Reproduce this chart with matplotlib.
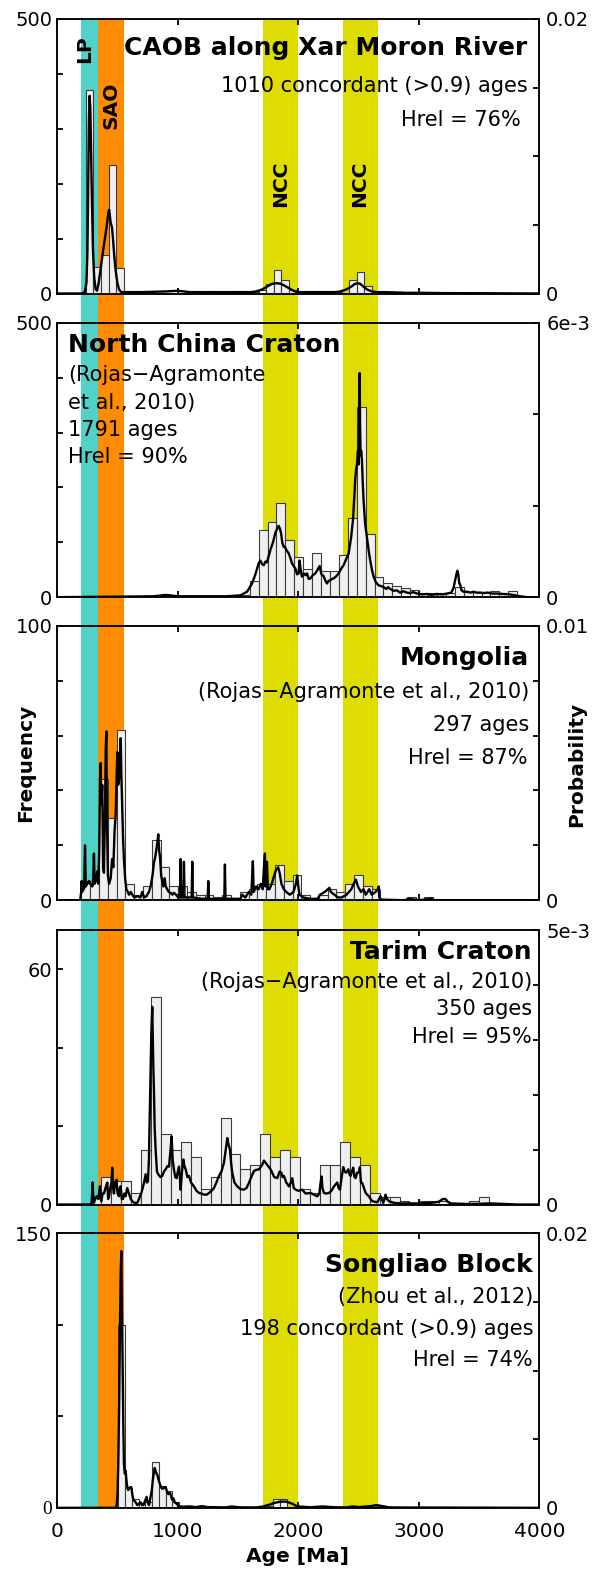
import numpy as np
import matplotlib.pyplot as plt

W, H = 594, 1570  # output size in pixels

# age windows of the source terranes [Ma]
lp_band = (200, 335)
sao_band = (335, 550)
ncc_bands = [(1705, 1995), (2370, 2660)]
age_ticks = [0, 1000, 2000, 3000, 4000]

# histograms: (first bin edge, bin width) and counts per bin
caob_bins = (238, 62.4)
caob_counts = [371, 49, 70, 234, 47,
               3, 2, 1, 2, 1, 1, 0, 1, 1, 0, 1, 0, 1, 0, 1, 1, 1,
               2, 6, 17, 42, 24, 6,
               2, 1, 1, 1, 1,
               2, 1, 24, 40, 14, 4, 2, 1, 1]

ncc_bins = (1523, 74)
ncc_counts = [4, 29, 123, 137, 171, 104, 74, 52, 81, 48, 48, 77, 145, 346, 115,
              36, 26, 20, 16, 14, 7, 8, 8, 7, 19, 10, 10, 10, 11, 7, 11]

mong_bins = (200, 73)
mong_counts = [7, 7, 44, 30, 62, 6, 2, 5, 22, 12, 5, 5, 3, 2, 2, 1, 2, 0, 3, 4,
               6, 6, 13, 7, 9, 2, 0, 2, 4, 3, 6, 9, 5, 4, 0, 0, 0, 1, 0, 1]

tarim_bins = (282.5, 82.5)
tarim_counts = [2, 7, 6, 6, 3, 14, 53, 18, 14, 16, 12, 4, 7, 22, 13, 9, 10, 18,
                12, 14, 12, 4, 3, 10, 10, 16, 12, 10, 3, 2, 2, 1, 0, 1, 1, 1,
                0, 0, 1, 2]

song_bins = (506, 56)
song_counts = [100, 11, 5, 2, 3, 25, 12, 9, 3, 1, 1, 0, 1, 0, 0, 0, 0, 1, 0, 0,
               0, 0, 1, 5, 5, 0, 0, 0, 0, 0, 1, 0, 0, 0, 0, 1, 0, 0, 1, 1]

# probability density curves (age [Ma], probability)
caob_pdp = [(0, 0), (200, 0), (228, 0.0001), (242, 0.0008), (250, 0.003),
            (256, 0.0075), (262, 0.0125), (268, 0.0144), (274, 0.0135),
            (280, 0.0105), (288, 0.0065), (296, 0.0032), (306, 0.0012),
            (318, 0.0003), (330, 0.0002), (342, 0.0007), (356, 0.0016),
            (372, 0.0026), (388, 0.0036), (402, 0.0044), (414, 0.0052),
            (424, 0.0059), (430, 0.0061), (436, 0.0057), (442, 0.0052),
            (448, 0.0050), (454, 0.0048), (462, 0.0040), (472, 0.0028),
            (484, 0.0017), (498, 0.0008), (512, 0.0003), (530, 0.0001),
            (560, 0.0001), (700, 0.0001), (900, 0.00015), (1000, 0.0002),
            (1100, 0.0001), (1300, 0.0001), (1500, 0.0001), (1600, 0.0001),
            (1650, 0.00015), (1700, 0.0003), (1740, 0.0005), (1780, 0.0007),
            (1820, 0.00075), (1850, 0.00072), (1880, 0.0006), (1910, 0.00045),
            (1940, 0.0003), (1970, 0.00015), (2000, 0.0001), (2100, 0.0001),
            (2200, 0.0001), (2300, 0.0001), (2350, 0.00015), (2400, 0.0003),
            (2440, 0.0005), (2470, 0.0007), (2492, 0.00075), (2515, 0.0007),
            (2540, 0.0005), (2570, 0.0003), (2610, 0.00015), (2650, 0.0001),
            (2700, 0.0001), (2800, 0.00008), (2900, 0.00005), (3000, 0.00005),
            (3200, 0.00003), (3500, 0.00002), (4000, 0)]

ncc_pdp = [(0, 0), (800, 0.00002), (900, 0.00005), (1000, 0.00002), (1400, 0.00002),
           (1519, 0.00004), (1575, 0.00012), (1616, 0.0003), (1644, 0.0005),
           (1671, 0.00074), (1685, 0.0008), (1700, 0.00072), (1713, 0.0007),
           (1728, 0.00078), (1740, 0.00076), (1768, 0.00103), (1790, 0.0012),
           (1809, 0.0014), (1825, 0.0015), (1837, 0.00156), (1847, 0.0015),
           (1857, 0.0014), (1868, 0.00118), (1879, 0.0011), (1890, 0.0011),
           (1901, 0.00103), (1920, 0.00096), (1935, 0.00085), (1948, 0.00074),
           (1962, 0.00068), (1975, 0.00063), (1990, 0.0005), (2003, 0.00052),
           (2010, 0.0008), (2017, 0.00065), (2030, 0.00045), (2045, 0.00052),
           (2060, 0.00048), (2072, 0.00052), (2086, 0.0004), (2100, 0.00041),
           (2120, 0.00048), (2141, 0.00052), (2160, 0.0006), (2177, 0.00068),
           (2192, 0.0005), (2210, 0.00046), (2225, 0.00036), (2238, 0.0003),
           (2252, 0.00036), (2266, 0.00037), (2280, 0.0004), (2293, 0.00041),
           (2312, 0.00045), (2335, 0.00052), (2355, 0.00062), (2376, 0.0007),
           (2400, 0.00085), (2418, 0.00096), (2438, 0.0013), (2454, 0.0017),
           (2465, 0.0022), (2473, 0.0026), (2480, 0.0028), (2487, 0.0029),
           (2495, 0.0032), (2500, 0.0029), (2506, 0.004), (2509, 0.0049),
           (2513, 0.0037), (2517, 0.0031), (2522, 0.0032), (2528, 0.0030),
           (2535, 0.0025), (2542, 0.0021), (2555, 0.0016), (2570, 0.0013),
           (2585, 0.001), (2597, 0.0008), (2611, 0.0006), (2625, 0.00045),
           (2645, 0.00032), (2666, 0.00026), (2690, 0.00024), (2708, 0.00022),
           (2730, 0.00018), (2745, 0.00022), (2763, 0.00018), (2790, 0.00014),
           (2818, 0.00015), (2845, 0.0001), (2873, 0.00013), (2900, 0.0001),
           (2929, 0.00009), (2955, 0.00011), (2984, 0.00008), (3030, 0.00006),
           (3067, 0.00007), (3110, 0.00005), (3150, 0.00007), (3200, 0.00006),
           (3233, 0.00008), (3270, 0.0001), (3288, 0.0002), (3300, 0.00035),
           (3312, 0.0005), (3320, 0.00058), (3328, 0.0005), (3336, 0.0003),
           (3343, 0.00028), (3355, 0.00015), (3370, 0.00012), (3400, 0.00012),
           (3430, 0.0001), (3453, 0.00012), (3480, 0.0001), (3510, 0.0001),
           (3536, 0.00009), (3570, 0.0001), (3610, 0.00008), (3647, 0.00008),
           (3700, 0.00007), (3758, 0.00006), (3800, 0.00004), (3840, 0.00002),
           (3900, 0.0), (4000, 0)]

mong_pdp = [(0, 0), (190, 0), (198, 0.0003), (202, 0.0007), (206, 0.0003),
            (215, 0.0005), (222, 0.0004), (230, 0.002), (236, 0.0005),
            (250, 0.0006), (263, 0.0007), (270, 0.0006), (277, 0.0006),
            (290, 0.0005), (297, 0.0006), (304, 0.0017), (310, 0.0006),
            (320, 0.0007), (332, 0.00105), (340, 0.0006), (348, 0.0018),
            (355, 0.0045), (360, 0.005), (366, 0.0035), (373, 0.0042),
            (380, 0.0012), (387, 0.001), (395, 0.003), (402, 0.0055),
            (407, 0.00615), (412, 0.003), (420, 0.0009), (430, 0.0006),
            (443, 0.0008), (455, 0.0015), (465, 0.0012), (475, 0.0025),
            (484, 0.0031), (492, 0.0045), (498, 0.0054), (505, 0.0042),
            (512, 0.0044), (520, 0.0052), (526, 0.0059), (532, 0.0045),
            (539, 0.0034), (546, 0.0022), (553, 0.0015), (563, 0.0008),
            (573, 0.0004), (585, 0.0003), (595, 0.0002), (610, 0.0003),
            (622, 0.0002), (640, 0.0001), (664, 0.00015), (690, 0.0001),
            (705, 0.0003), (720, 0.0001), (741, 0.00015), (760, 0.0003),
            (774, 0.0005), (790, 0.0009), (802, 0.00136), (814, 0.0016),
            (824, 0.0019), (830, 0.0021), (838, 0.0024), (845, 0.0018),
            (852, 0.0016), (862, 0.0009), (871, 0.0007), (880, 0.0005),
            (891, 0.0008), (900, 0.0005), (913, 0.0004), (925, 0.0003),
            (940, 0.00027), (955, 0.0002), (968, 0.00027), (985, 0.0002),
            (1005, 0.0001), (1018, 0.0001), (1023, 0.0015), (1028, 0.0001),
            (1045, 0.0001), (1051, 0.0014), (1056, 0.0001), (1090, 0.0001),
            (1115, 0.0001), (1120, 0.0014), (1125, 0.0001), (1200, 0.00005),
            (1248, 0.00005), (1253, 0.0007), (1258, 0.00005), (1300, 0.00005),
            (1386, 0.00005), (1391, 0.0013), (1396, 0.00005), (1450, 0.00005),
            (1520, 0.00005), (1535, 0.0002), (1560, 0.0001), (1590, 0.0003),
            (1610, 0.0002), (1623, 0.00142), (1630, 0.0003), (1650, 0.0005),
            (1670, 0.0004), (1690, 0.0006), (1705, 0.0004), (1715, 0.0012),
            (1723, 0.0017), (1728, 0.0005), (1740, 0.0014), (1748, 0.0004),
            (1760, 0.0004), (1780, 0.0006), (1800, 0.0009), (1815, 0.0011),
            (1833, 0.0012), (1845, 0.001), (1860, 0.0006), (1880, 0.0004),
            (1900, 0.0003), (1930, 0.0002), (1960, 0.0003), (1980, 0.0006),
            (1990, 0.0009), (2000, 0.0005), (2010, 0.0002), (2040, 0.0001),
            (2100, 0.00005), (2160, 0.00005), (2180, 0.0002), (2220, 0.0003),
            (2245, 0.0004), (2258, 0.00045), (2270, 0.0003), (2300, 0.0002),
            (2330, 0.0001), (2360, 0.0001), (2400, 0.0002), (2440, 0.0004),
            (2460, 0.0006), (2478, 0.00075), (2495, 0.0005), (2520, 0.0003),
            (2541, 0.0004), (2560, 0.0002), (2588, 0.0004), (2610, 0.0002),
            (2640, 0.0003), (2660, 0.0004), (2667, 0.0005), (2672, 0.0001),
            (2690, 0.00002), (2880, 0), (2920, 0.00005), (2940, 0.00004),
            (3000, 0), (3080, 0.00004), (3100, 0.00006), (3130, 0), (4000, 0)]

tarim_pdp = [(0, 0), (280, 0), (285, 0.00002), (293, 0.0004), (299, 0.0001),
             (304, 0.00003), (315, 0.0001), (326, 0.00015), (340, 0.0001),
             (354, 0.00033), (360, 0.0001), (365, 0.00006), (376, 0.0002),
             (387, 0.0002), (400, 0.0003), (415, 0.0004), (422, 0.0001),
             (429, 0.00015), (440, 0.0003), (449, 0.0004), (456, 0.00067),
             (463, 0.0003), (470, 0.0002), (480, 0.0004), (492, 0.00045),
             (500, 0.0002), (512, 0.00015), (519, 0.0003), (526, 0.00033),
             (535, 0.0001), (545, 0.0001), (556, 0.0002), (567, 0.00015),
             (580, 0.0003), (595, 0.0002), (610, 0.0001), (622, 0.00006),
             (640, 0.00003), (664, 0.00003), (678, 0.0001), (686, 0.00015),
             (696, 0.0002), (705, 0.00027), (720, 0.0004), (733, 0.00055),
             (743, 0.0004), (752, 0.00042), (760, 0.0008), (766, 0.0015),
             (774, 0.0024), (780, 0.0031), (788, 0.0036), (793, 0.003),
             (797, 0.0025), (802, 0.0021), (808, 0.0014), (816, 0.001),
             (827, 0.0006), (838, 0.00055), (855, 0.0005), (871, 0.00052),
             (885, 0.0006), (899, 0.00064), (914, 0.0007), (927, 0.00069),
             (940, 0.001), (949, 0.00124), (958, 0.0008), (968, 0.00064),
             (979, 0.0005), (990, 0.00048), (1000, 0.0006), (1010, 0.00069),
             (1017, 0.0005), (1023, 0.00027), (1035, 0.0006), (1046, 0.00082),
             (1055, 0.0007), (1065, 0.00064), (1080, 0.0005), (1093, 0.00052),
             (1110, 0.0004), (1134, 0.00033), (1155, 0.00025), (1176, 0.00021),
             (1195, 0.0002), (1217, 0.00018), (1240, 0.00018), (1259, 0.00021),
             (1280, 0.00025), (1300, 0.0003), (1320, 0.0004), (1342, 0.00052),
             (1362, 0.0006), (1383, 0.00076), (1398, 0.001), (1411, 0.00121),
             (1420, 0.0011), (1433, 0.001), (1445, 0.0007), (1452, 0.00058),
             (1470, 0.0004), (1494, 0.00033), (1520, 0.00028), (1549, 0.00027),
             (1570, 0.0003), (1590, 0.00039), (1610, 0.0005), (1632, 0.00061),
             (1650, 0.00063), (1673, 0.00064), (1700, 0.00072), (1715, 0.0008),
             (1729, 0.00076), (1750, 0.0007), (1770, 0.00064), (1800, 0.0005),
             (1826, 0.00048), (1845, 0.0006), (1859, 0.00058), (1870, 0.0005),
             (1881, 0.00052), (1900, 0.0004), (1922, 0.00033), (1938, 0.0004),
             (1950, 0.00048), (1962, 0.0003), (1978, 0.00027), (2000, 0.00025),
             (2033, 0.00027), (2060, 0.0002), (2102, 0.00021), (2130, 0.00018),
             (2157, 0.00015), (2175, 0.0002), (2185, 0.0004), (2193, 0.00051),
             (2200, 0.0003), (2213, 0.00021), (2235, 0.0002), (2254, 0.00021),
             (2275, 0.00025), (2296, 0.00033), (2323, 0.0004), (2335, 0.0003),
             (2346, 0.00027), (2360, 0.0005), (2373, 0.00068), (2385, 0.0006),
             (2395, 0.00058), (2405, 0.0006), (2415, 0.00064), (2425, 0.00055),
             (2434, 0.00052), (2445, 0.0006), (2456, 0.00067), (2466, 0.0005),
             (2476, 0.00048), (2488, 0.00058), (2498, 0.00058), (2505, 0.0006),
             (2511, 0.00068), (2520, 0.0004), (2531, 0.00039), (2545, 0.0003),
             (2559, 0.00021), (2572, 0.00018), (2586, 0.00015), (2600, 0.0001),
             (2614, 0.00006), (2635, 0.00005), (2655, 0.00004), (2670, 0.0001),
             (2683, 0.00015), (2693, 0.0001), (2705, 0.00003), (2715, 0.0001),
             (2724, 0.00018), (2735, 0.0001), (2752, 0.00006), (2794, 0.00003),
             (2850, 0.00002), (2904, 0.00002), (3000, 0.00002), (3098, 0.00003),
             (3140, 0.00004), (3165, 0.00005), (3200, 0.0001), (3222, 0.0001),
             (3240, 0.00005), (3264, 0.00002), (3400, 0.00001), (3457, 0.00001),
             (3596, 0.00002), (3700, 0.00001), (3817, 0), (4000, 0)]

song_pdp = [(0, 0), (480, 0), (492, 0.0001), (500, 0.001), (506, 0.0032),
            (514, 0.008), (520, 0.013), (526, 0.017), (531, 0.0187), (536, 0.015),
            (542, 0.0105), (548, 0.006), (553, 0.0032), (560, 0.0025),
            (567, 0.0027), (574, 0.002), (581, 0.0015), (588, 0.0013),
            (595, 0.0014), (605, 0.0015), (614, 0.0015), (622, 0.001),
            (631, 0.0006), (640, 0.0005), (650, 0.0004), (664, 0.0002),
            (678, 0.0003), (692, 0.0004), (703, 0.0002), (714, 0.0002),
            (728, 0.0005), (741, 0.0008), (750, 0.0004), (761, 0.0002),
            (772, 0.0007), (783, 0.0012), (795, 0.0022), (808, 0.0029),
            (818, 0.0026), (830, 0.0024), (845, 0.0019), (857, 0.0016),
            (868, 0.0014), (880, 0.0014), (890, 0.0015), (899, 0.0015),
            (910, 0.0012), (921, 0.001), (932, 0.0011), (940, 0.001),
            (952, 0.0006), (963, 0.0007), (975, 0.0004), (990, 0.0003),
            (1010, 0.0001), (1051, 0.00008), (1100, 0.0001), (1150, 0.00005),
            (1200, 0.00012), (1250, 0.00005), (1400, 0.00003), (1450, 0.0001),
            (1500, 0.00003), (1650, 0.00003), (1700, 0.00008), (1750, 0.0002),
            (1800, 0.00035), (1850, 0.00045), (1900, 0.00045), (1950, 0.0003),
            (1990, 0.0001), (2030, 0.00008), (2100, 0.00004), (2200, 0.0001),
            (2300, 0.00004), (2400, 0.00003), (2450, 0.0001), (2500, 0.00005),
            (2600, 0.00012), (2650, 0.0002), (2700, 0.00012), (2750, 0.00003),
            (2900, 0.00002), (3000, 0.00002), (4000, 0)]

# per panel: histogram, curve, left axis (max, ticks, labels), right axis (max, ticks, labels)
panels = [
    (caob_bins, caob_counts, caob_pdp,
     500, [0, 100, 200, 300, 400, 500], ['0', '', '', '', '', '500'],
     0.02, [0, 0.005, 0.01, 0.015, 0.02], ['0', '', '', '', '0.02']),
    (ncc_bins, ncc_counts, ncc_pdp,
     500, [0, 100, 200, 300, 400, 500], ['0', '', '', '', '', '500'],
     0.006, [0, 0.002, 0.004, 0.006], ['0', '', '', '6e-3']),
    (mong_bins, mong_counts, mong_pdp,
     100, [0, 20, 40, 60, 80, 100], ['0', '', '', '', '', '100'],
     0.01, [0, 0.002, 0.004, 0.006, 0.008, 0.01], ['0', '', '', '', '', '0.01']),
    (tarim_bins, tarim_counts, tarim_pdp,
     70, [0, 20, 40, 60], ['0', '', '', '60'],
     0.005, [0, 0.001, 0.002, 0.003, 0.004, 0.005], ['0', '', '', '', '', '5e-3']),
    (song_bins, song_counts, song_pdp,
     150, [0, 50, 100, 150], ['0', '', '', '150'],
     0.02, [0, 0.005, 0.01, 0.015, 0.02], ['0', '', '', '', '0.02']),
]

# panel layout in pixels
ax_left, ax_right = 57.3, 539.3
panel_tops = [19, 322.7, 625.7, 930, 1233.3]
panel_h = 274.5


def fx(px):
    return px / W


def fy(py):
    return 1 - py / H


fig = plt.figure(figsize=(W / 100, H / 100), dpi=100)

# coloured age windows run behind all five panels
bg = fig.add_axes([fx(ax_left), fy(panel_tops[-1] + panel_h),
                   fx(ax_right) - fx(ax_left), fy(panel_tops[0]) - fy(panel_tops[-1] + panel_h)])
bg.set_xlim(0, 4000)
bg.set_ylim(0, 1)
bg.axis('off')
bg.axvspan(*lp_band, color='#50D2C8', lw=0)
bg.axvspan(*sao_band, color='#FF8C00', lw=0)
for b in ncc_bands:
    bg.axvspan(*b, color='#DEDC00', lw=0)

for i, (bins, counts, pdp, fmax, fticks, flabels, pmax, pticks, plabels) in enumerate(panels):
    top = panel_tops[i]
    ax = fig.add_axes([fx(ax_left), fy(top + panel_h), fx(ax_right) - fx(ax_left), panel_h / H])
    ax.set_facecolor('none')
    start, width = bins
    edges = start + width * np.arange(len(counts))
    ax.bar(edges, counts, width=width, align='edge', color='#EFEFF0',
           edgecolor='#3a3a3a', linewidth=0.8)
    ax.set_xlim(0, 4000)
    ax.set_ylim(0, fmax)
    ax.set_xticks(age_ticks)
    ax.tick_params(axis='x', direction='in', top=True, bottom=True, length=4, width=1.3,
                   labelbottom=(i == len(panels) - 1), labelsize=14.5, pad=10)
    ax.set_yticks(fticks)
    ylabs = ax.set_yticklabels(flabels)
    ax.tick_params(axis='y', direction='in', length=4, width=1.3, labelsize=14, pad=3.5)
    if i == len(panels) - 1:
        ylabs[0].set_fontfamily('Liberation Serif')

    ax2 = ax.twinx()
    a, p = np.array(pdp).T
    ax2.plot(a, p, color='black', lw=1.7)
    ax2.set_ylim(0, pmax)
    ax2.set_yticks(pticks)
    ax2.set_yticklabels(plabels)
    ax2.tick_params(axis='y', direction='in', length=4, width=1.3, labelsize=14, pad=5)
    for s in list(ax.spines.values()) + list(ax2.spines.values()):
        s.set_linewidth(1.1)


def put(px, py, s, size=15, bold=False, ha='right', rot=0):
    fig.text(fx(px), fy(py), s, fontsize=size, ha=ha, va='center', rotation=rot,
             fontweight='bold' if bold else 'normal')


# band names
put(85, 49, 'LP', 14.5, True, 'center', 90)
put(111, 105, 'SAO', 14.5, True, 'center', 90)
put(281, 184, 'NCC', 14.5, True, 'center', 90)
put(360, 184, 'NCC', 14.5, True, 'center', 90)

# panel annotations
put(527, 48, 'CAOB along Xar Moron River', 18, True)
put(528, 86, '1010 concordant (>0.9) ages')
put(521, 120, 'Hrel = 76%')

put(68, 345, 'North China Craton', 18, True, 'left')
put(68, 375, '(Rojas\u2212Agramonte', ha='left')
put(68, 403, 'et al., 2010)', ha='left')
put(68, 430, '1791 ages', ha='left')
put(68, 457, 'Hrel = 90%', ha='left')

put(529.5, 658, 'Mongolia', 18, True)
put(529.5, 692, '(Rojas\u2212Agramonte et al., 2010)')
put(529.5, 725, '297 ages')
put(528, 758, 'Hrel = 87%')

put(532, 952, 'Tarim Craton', 18, True)
put(532, 982, '(Rojas\u2212Agramonte et al., 2010)')
put(532, 1009, '350 ages')
put(532, 1037, 'Hrel = 95%')

put(533, 1265, 'Songliao Block', 18, True)
put(533, 1297, '(Zhou et al., 2012)')
put(533, 1329, '198 concordant (>0.9) ages')
put(533, 1360, 'Hrel = 74%')

# axis titles
put(26, 763, 'Frequency', 14.5, True, 'center', 90)
put(577, 764, 'Probability', 14.5, True, 'center', 90)
put(298, 1556, 'Age [Ma]', 14.5, True, 'center')

fig.savefig('out.png', dpi=100)
